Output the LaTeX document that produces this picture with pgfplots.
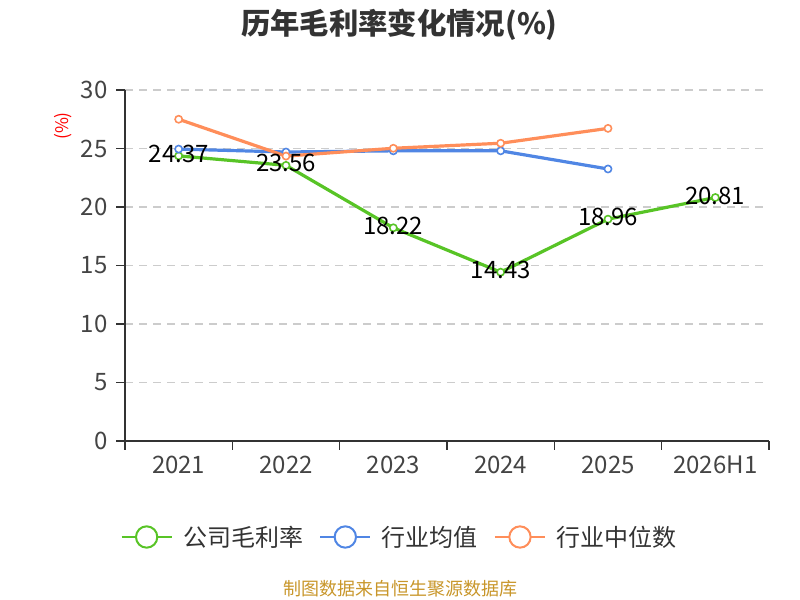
\documentclass[border=0pt]{standalone}
\usepackage{pgfplots}
\pgfplotsset{compat=1.18}
\usepackage{fontspec}
\setmainfont{Noto Sans CJK SC}
\definecolor{cgreen}{RGB}{88,196,38}
\definecolor{cblue}{RGB}{80,134,228}
\definecolor{corange}{RGB}{255,142,90}
\definecolor{ctext}{RGB}{51,51,51}
\definecolor{ctick}{RGB}{68,68,68}
\definecolor{cgrid}{RGB}{204,204,204}
\definecolor{cfoot}{RGB}{200,150,42}
\begin{document}
\begin{tikzpicture}[x=0.75pt,y=0.75pt]
\path[use as bounding box] (0,0) rectangle (800,600);
\node[font=\bfseries\fontsize{22}{25}\selectfont, text=ctext] at (399.5,575) {历年毛利率变化情况(\%)};
\node[rotate=90, text=red, font=\fontsize{13}{15}\selectfont] at (63.5,474) {(\%)};
\node[text=cfoot, font=\fontsize{13.5}{15}\selectfont] at (400,11) {制图数据来自恒生聚源数据库};
\begin{axis}[
  at={(93.75pt,119.25pt)}, anchor=south west,
  scale only axis, width=483pt, height=263.25pt,
  xmin=-0.5, xmax=5.5, ymin=0, ymax=30,
  axis x line=bottom, axis y line=left,
  axis line style={-, draw=ctext, line width=1.1pt},
  xtick={-0.5,0.5,1.5,2.5,3.5,4.5,5.5},
  xticklabels={2021,2022,2023,2024,2025,2026H1,{}},
  xticklabel style={xshift=40.25pt, yshift=-1.5pt},
  yticklabel style={xshift=-3pt},
  ytick={0,5,10,15,20,25,30},
  tick align=outside, major tick length=6.5pt,
  tick style={draw=ctext, line width=1.1pt},
  ymajorgrids,
  major grid style={draw=cgrid, line width=0.9pt, dash pattern=on 6pt off 4.5pt},
  ticklabel style={font=\fontsize{18}{20}\selectfont, text=ctick},
  /pgf/number format/assume math mode=true,
  clip=false,
  legend style={at={(0.427,-0.2735)}, anchor=center, draw=none, fill=none,
    legend columns=3, font=\fontsize{18}{20}\selectfont, text=ctext,
    /tikz/every odd column/.append style={column sep=6pt},
    /tikz/every even column/.append style={column sep=10pt}},
]
\addplot[cgreen, line width=2.4pt, mark=*, mark size=2.7pt, mark options={fill=white, line width=1.2pt, solid},
  legend image code/.code={\draw[line width=1.5pt] (0pt,0pt) -- (37.5pt,0pt); \draw[line width=1.5pt, fill=white] (18.75pt,0pt) circle (8pt);}]
  coordinates {(0,24.37) (1,23.56) (2,18.22) (3,14.43) (4,18.96) (5,20.81)};
\addlegendentry{公司毛利率}
\addplot[cblue, line width=2.4pt, mark=*, mark size=2.7pt, mark options={fill=white, line width=1.2pt, solid},
  legend image code/.code={\draw[line width=1.5pt] (0pt,0pt) -- (37.5pt,0pt); \draw[line width=1.5pt, fill=white] (18.75pt,0pt) circle (8pt);}]
  coordinates {(0,24.95) (1,24.7) (2,24.8) (3,24.8) (4,23.25)};
\addlegendentry{行业均值}
\addplot[corange, line width=2.4pt, mark=*, mark size=2.7pt, mark options={fill=white, line width=1.2pt, solid},
  legend image code/.code={\draw[line width=1.5pt] (0pt,0pt) -- (37.5pt,0pt); \draw[line width=1.5pt, fill=white] (18.75pt,0pt) circle (8pt);}]
  coordinates {(0,27.5) (1,24.35) (2,25.02) (3,25.45) (4,26.72)};
\addlegendentry{行业中位数}
\addplot[draw=none, mark=none, forget plot, nodes near coords,
  every node near coord/.append style={anchor=center, yshift=1.5pt, font=\fontsize{18}{20}\selectfont, text=black}]
  coordinates {(0,24.37) (1,23.56) (2,18.22) (3,14.43) (4,18.96) (5,20.81)};
\end{axis}
\end{tikzpicture}
\end{document}
